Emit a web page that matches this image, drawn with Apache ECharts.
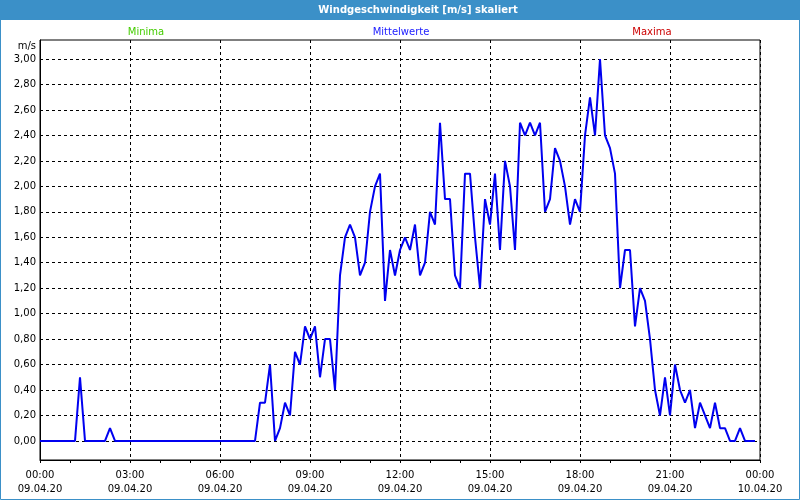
<!DOCTYPE html>
<html>
<head>
<meta charset="utf-8">
<script src="https://cdn.jsdelivr.net/npm/echarts@6/dist/echarts.min.js"></script>
<style>
html,body{margin:0;padding:0;background:#fff;}
#chart{width:800px;height:500px;}
</style>
</head>
<body>
<div id="chart"></div>
<script>
// Mean wind speed [m/s], 10-minute values from 09.04.20 00:00 to 23:50
const windMean = [
  0, 0, 0, 0, 0, 0, 0, 0, 0.5, 0,
  0, 0, 0, 0, 0.1, 0, 0, 0, 0, 0,
  0, 0, 0, 0, 0, 0, 0, 0, 0, 0,
  0, 0, 0, 0, 0, 0, 0, 0, 0, 0,
  0, 0, 0, 0, 0.3, 0.3, 0.6, 0, 0.1, 0.3,
  0.2, 0.7, 0.6, 0.9, 0.8, 0.9, 0.5, 0.8, 0.8, 0.4,
  1.3, 1.6, 1.7, 1.6, 1.3, 1.4, 1.8, 2.0, 2.1, 1.1,
  1.5, 1.3, 1.5, 1.6, 1.5, 1.7, 1.3, 1.4, 1.8, 1.7,
  2.5, 1.9, 1.9, 1.3, 1.2, 2.1, 2.1, 1.6, 1.2, 1.9,
  1.7, 2.1, 1.5, 2.2, 2.0, 1.5, 2.5, 2.4, 2.5, 2.4,
  2.5, 1.8, 1.9, 2.3, 2.2, 2.0, 1.7, 1.9, 1.8, 2.4,
  2.7, 2.4, 3.0, 2.4, 2.3, 2.1, 1.2, 1.5, 1.5, 0.9,
  1.2, 1.1, 0.8, 0.4, 0.2, 0.5, 0.2, 0.6, 0.4, 0.3,
  0.4, 0.1, 0.3, 0.2, 0.1, 0.3, 0.1, 0.1, 0, 0,
  0.1, 0, 0, 0
];
const yTicks = [0, 0.2, 0.4, 0.6, 0.8, 1.0, 1.2, 1.4, 1.6, 1.8, 2.0, 2.2, 2.4, 2.6, 2.8, 3.0];
const xTickLabels = [
  '00:00\n09.04.20', '03:00\n09.04.20', '06:00\n09.04.20', '09:00\n09.04.20',
  '12:00\n09.04.20', '15:00\n09.04.20', '18:00\n09.04.20', '21:00\n09.04.20',
  '00:00\n10.04.20'
];
const legendTexts = ['Minima', 'Mittelwerte', 'Maxima'];
const titleText = 'Windgeschwindigkeit [m/s] skaliert';
const yUnit = 'm/s';

// category slots: every 10 minutes, 00:00 .. 24:00
const categories = [];
for (let i = 0; i <= 144; i++) {
  const m = i * 10;
  const hh = String(Math.floor(m / 60) % 24).padStart(2, '0');
  const mm = String(m % 60).padStart(2, '0');
  categories.push(hh + ':' + mm);
}

const FONT = 'DejaVu Sans';
const chart = echarts.init(document.getElementById('chart'), null, {renderer: 'canvas'});
const blue = '#3b90c8';

chart.setOption({
  animation: false,
  backgroundColor: '#ffffff',
  grid: {left: 40, right: 40, top: 40, bottom: 40, show: true, borderColor: '#000', borderWidth: 1, backgroundColor: 'transparent'},
  xAxis: {
    type: 'category',
    data: categories,
    boundaryGap: false,
    axisLine: {show: true, onZero: false, lineStyle: {color: '#000', width: 1}},
    axisTick: {show: true, interval: 5, length: 3, inside: false, lineStyle: {color: '#000'}},
    axisLabel: {
      show: true, interval: 17, margin: 8, color: '#000',
      fontFamily: FONT, fontSize: 10, lineHeight: 14,
      formatter: function (val, idx) { return xTickLabels[idx / 18] || ''; }
    },
    splitLine: {show: true, interval: 17, lineStyle: {color: '#000', type: [3, 3], width: 1}}
  },
  yAxis: {
    type: 'value',
    min: -0.15,
    max: 3.15,
    axisLine: {show: true, lineStyle: {color: '#000', width: 1}},
    axisTick: {show: false, customValues: yTicks},
    axisLabel: {
      show: true, margin: 4, color: '#000', fontFamily: FONT, fontSize: 10,
      customValues: yTicks,
      formatter: function (v) { return v.toFixed(2).replace('.', ','); }
    },
    splitLine: {show: true, lineStyle: {color: '#000', type: [3, 3], width: 1}}
  },
  series: [{
    name: legendTexts[1],
    type: 'line',
    data: windMean,
    showSymbol: false,
    symbol: 'none',
    lineStyle: {color: '#0000f0', width: 2},
    z: 5
  }],
  graphic: [
    {type: 'rect', shape: {x: 0, y: 0, width: 800, height: 20}, style: {fill: blue}, z: 100},
    {type: 'rect', shape: {x: 0.5, y: 0.5, width: 799, height: 499}, style: {fill: 'none', stroke: blue, lineWidth: 1}, z: 100},
    {type: 'text', x: 418, y: 10, z: 101, style: {text: titleText, fill: '#fff', font: 'bold 10px "DejaVu Sans"', textAlign: 'center', textVerticalAlign: 'middle'}},
    {type: 'text', x: 146, y: 32, z: 101, style: {text: legendTexts[0], fill: '#44cc00', font: '10px "DejaVu Sans"', textAlign: 'center', textVerticalAlign: 'middle'}},
    {type: 'text', x: 401, y: 32, z: 101, style: {text: legendTexts[1], fill: '#2020ff', font: '10px "DejaVu Sans"', textAlign: 'center', textVerticalAlign: 'middle'}},
    {type: 'text', x: 652, y: 32, z: 101, style: {text: legendTexts[2], fill: '#cc0000', font: '10px "DejaVu Sans"', textAlign: 'center', textVerticalAlign: 'middle'}},
    {type: 'text', x: 36, y: 46, z: 101, style: {text: yUnit, fill: '#000', font: '10px "DejaVu Sans"', textAlign: 'right', textVerticalAlign: 'middle'}}
  ]
});
</script>
</body>
</html>
